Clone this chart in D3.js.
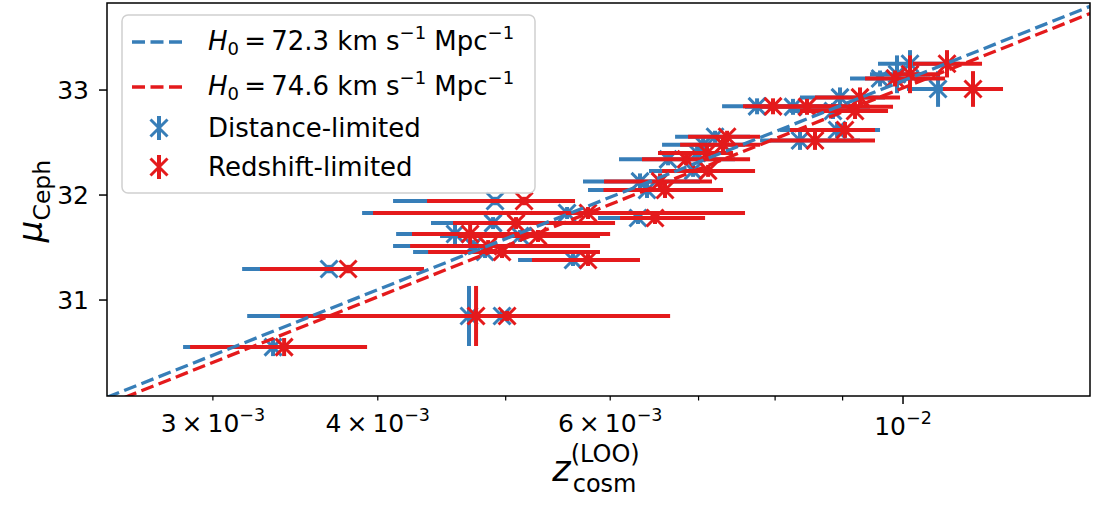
<!DOCTYPE html>
<html>
<head>
<meta charset="utf-8">
<script src="https://cdn.jsdelivr.net/npm/d3@7/dist/d3.min.js"></script>
<style>
  body { margin: 0; background: #fff; }
  svg text { font-family: "DejaVu Sans", sans-serif; fill: #000; }
</style>
</head>
<body>
<div id="chart"></div>
<script>
// Hubble constants of the two model lines (km/s/Mpc)
var hubbleValues = [72.3, 74.6];
var hubbleLabels = ["72.3", "74.6"];
var seriesNames = ["Distance-limited", "Redshift-limited"];

// distance modulus and its error, one entry per galaxy (same for both samples)
var muCeph = [30.552, 31.295, 30.848, 30.848, 31.943, 31.829, 31.733, 31.629, 31.610, 31.514,
              31.457, 31.381, 32.13, 32.048, 31.781, 32.34, 32.23, 32.40, 32.48, 32.555,
              32.845, 32.84, 32.52, 32.80, 32.93, 32.62, 33.11, 33.25, 33.01, 33.15];
var muErr = [0.086, 0.04, 0.286, 0.048, 0.04, 0.057, 0.057, 0.095, 0.057, 0.057,
             0.057, 0.057, 0.076, 0.076, 0.057, 0.057, 0.057, 0.076, 0.076, 0.057,
             0.076, 0.076, 0.09, 0.076, 0.095, 0.076, 0.076, 0.13, 0.17, 0.18];

// distance-limited: z_cosm and the ends of its error bar
var distZ   = [0.003332, 0.003674, 0.004690, 0.004968, 0.004908, 0.005565, 0.004891, 0.004577, 0.005127, 0.004723,
               0.004823, 0.005623, 0.006320, 0.006398, 0.006298, 0.006637, 0.006933, 0.006982, 0.007055, 0.007204,
               0.007752, 0.008254, 0.008355, 0.008850, 0.008959, 0.008913, 0.009607, 0.010123, 0.010630, 0.009896];
var distZLo = [0.002848, 0.003157, 0.003185, 0.003373, 0.004108, 0.003892, 0.004389, 0.004130, 0.004459, 0.004108,
               0.004254, 0.005109, 0.005722, 0.005772, 0.005874, 0.006093, 0.006420, 0.006522, 0.006568, 0.006719,
               0.007293, 0.007591, 0.007793, 0.008211, 0.008355, 0.008069, 0.009117, 0.009573, 0.010070, 0.009440];
var distZHi = [0.003831, 0.004202, 0.006545, 0.006320, 0.005498, 0.007395, 0.005894, 0.005843, 0.005793, 0.005643,
               0.005742, 0.006157, 0.007018, 0.007141, 0.006896, 0.007460, 0.007526, 0.007267, 0.007591, 0.007658,
               0.009037, 0.009440, 0.009277, 0.009523, 0.009691, 0.009607, 0.010482, 0.011045, 0.011103, 0.010391];

// redshift-limited: z_cosm and the ends of its error bar
var redZ   = [0.003397, 0.003798, 0.004748, 0.005012, 0.005163, 0.005772, 0.005091, 0.004699, 0.005290, 0.004849,
              0.004968, 0.005772, 0.006545, 0.006602, 0.006488, 0.006849, 0.007117, 0.007104, 0.007305, 0.007357,
              0.007971, 0.008458, 0.008577, 0.009197, 0.009277, 0.009037, 0.009861, 0.010798, 0.011299, 0.010123];
var redZLo = [0.002883, 0.003257, 0.003373, 0.003493, 0.004359, 0.003967, 0.004561, 0.004246, 0.004601, 0.004232,
              0.004367, 0.005235, 0.005936, 0.005930, 0.006104, 0.006342, 0.006568, 0.006522, 0.006778, 0.006873,
              0.007565, 0.007793, 0.007930, 0.008355, 0.008577, 0.008211, 0.009359, 0.010176, 0.010723, 0.009896];
var redZHi = [0.003926, 0.004336, 0.006661, 0.006545, 0.005643, 0.007591, 0.006051, 0.005999, 0.005894, 0.005793,
              0.005894, 0.006320, 0.007166, 0.007305, 0.007080, 0.007658, 0.007725, 0.007434, 0.007793, 0.007793,
              0.009277, 0.009827, 0.009523, 0.009742, 0.009948, 0.009523, 0.010760, 0.011478, 0.011906, 0.010667];

var xTicksLabelled = [0.003, 0.004, 0.006];
var xTickMantissa = ["3", "4", "6"];
var xTicksMinor = [0.005, 0.007, 0.008, 0.009];
var xTicksMajor = [0.01];
var yTicks = [31, 32, 33];

var colors = ["#377eb8", "#e41a1c"];
var speedOfLight = 299792.458;

var width = 1093, height = 505;
var margin = {left: 107, right: 3, top: 3, bottom: 109};

var svg = d3.select("#chart").append("svg")
    .attr("width", width)
    .attr("height", height);

var x = d3.scaleLog()
    .domain([0.002494, 0.013857])
    .range([margin.left, width - margin.right]);

var y = d3.scaleLinear()
    .domain([30.086, 33.829])
    .range([height - margin.bottom, margin.top]);

svg.append("defs").append("clipPath").attr("id", "plotclip")
  .append("rect")
    .attr("x", margin.left)
    .attr("y", margin.top)
    .attr("width", width - margin.left - margin.right)
    .attr("height", height - margin.top - margin.bottom);

var plot = svg.append("g").attr("clip-path", "url(#plotclip)");

var series = [
    {z: distZ, lo: distZLo, hi: distZHi},
    {z: redZ, lo: redZLo, hi: redZHi}
];

function xMarker(g, cx, cy, s, color) {
    g.append("path")
        .attr("d", "M" + (cx - s) + "," + (cy - s) + "L" + (cx + s) + "," + (cy + s) +
                   "M" + (cx - s) + "," + (cy + s) + "L" + (cx + s) + "," + (cy - s))
        .attr("stroke", color)
        .attr("stroke-width", 3)
        .attr("fill", "none");
}

series.forEach(function(s, k) {
    var g = plot.append("g");
    var color = colors[k];
    s.z.forEach(function(z, i) {
        g.append("line")
            .attr("x1", x(s.lo[i])).attr("x2", x(s.hi[i]))
            .attr("y1", y(muCeph[i])).attr("y2", y(muCeph[i]))
            .attr("stroke", color).attr("stroke-width", 4);
        g.append("line")
            .attr("x1", x(z)).attr("x2", x(z))
            .attr("y1", y(muCeph[i] - muErr[i])).attr("y2", y(muCeph[i] + muErr[i]))
            .attr("stroke", color).attr("stroke-width", 4);
    });
    s.z.forEach(function(z, i) {
        xMarker(g, x(z), y(muCeph[i]), 8.5, color);
    });
});

// model lines mu = 5 log10(c z / H0) + 25
var line = d3.line()
    .x(function(d) { return x(d[0]); })
    .y(function(d) { return y(d[1]); });

hubbleValues.forEach(function(h0, k) {
    var pts = x.domain().map(function(z) {
        return [z, 5 * Math.log10(speedOfLight * z / h0) + 25];
    });
    plot.append("path")
        .datum(pts)
        .attr("d", line)
        .attr("fill", "none")
        .attr("stroke", colors[k])
        .attr("stroke-width", 3.3)
        .attr("stroke-dasharray", "13,5.5");
});

// frame
svg.append("rect")
    .attr("x", margin.left)
    .attr("y", margin.top)
    .attr("width", width - margin.left - margin.right)
    .attr("height", height - margin.top - margin.bottom)
    .attr("fill", "none")
    .attr("stroke", "#000")
    .attr("stroke-width", 1.5);

var bottom = height - margin.bottom;
var tickFont = 25;

// x ticks
xTicksLabelled.concat(xTicksMinor).forEach(function(t) {
    svg.append("line")
        .attr("x1", x(t)).attr("x2", x(t))
        .attr("y1", bottom).attr("y2", bottom + 4.5)
        .attr("stroke", "#000").attr("stroke-width", 1.2);
});
xTicksMajor.forEach(function(t) {
    svg.append("line")
        .attr("x1", x(t)).attr("x2", x(t))
        .attr("y1", bottom).attr("y2", bottom + 8)
        .attr("stroke", "#000").attr("stroke-width", 1.5);
});

xTicksLabelled.forEach(function(t, i) {
    var txt = svg.append("text")
        .attr("x", x(t))
        .attr("y", bottom + 36)
        .attr("text-anchor", "middle")
        .style("font-size", tickFont + "px");
    txt.append("tspan").text(xTickMantissa[i] + "\u2009\u00d7\u200910");
    txt.append("tspan").attr("dy", -11).style("font-size", "17.5px").text("\u22123");
});
xTicksMajor.forEach(function(t) {
    var txt = svg.append("text")
        .attr("x", x(t))
        .attr("y", bottom + 39)
        .attr("text-anchor", "middle")
        .style("font-size", tickFont + "px");
    txt.append("tspan").text("10");
    txt.append("tspan").attr("dy", -11).style("font-size", "17.5px").text("\u22122");
});

// y ticks
yTicks.forEach(function(t) {
    svg.append("line")
        .attr("x1", margin.left - 8).attr("x2", margin.left)
        .attr("y1", y(t)).attr("y2", y(t))
        .attr("stroke", "#000").attr("stroke-width", 1.5);
    svg.append("text")
        .attr("x", margin.left - 18)
        .attr("y", y(t))
        .attr("dy", "0.36em")
        .attr("text-anchor", "end")
        .style("font-size", tickFont + "px")
        .text(t);
});

// axis labels
var xl = svg.append("text")
    .attr("x", 596)
    .attr("y", 481)
    .attr("text-anchor", "middle")
    .style("font-size", "35px");
xl.append("tspan").style("font-style", "italic").text("z");
xl.append("tspan").attr("dy", -19).style("font-size", "24px").text("(LOO)");
xl.append("tspan").attr("dx", -67).attr("dy", 30).style("font-size", "24px").text("cosm");

var yl = svg.append("text")
    .attr("transform", "translate(42,201) rotate(-90)")
    .attr("text-anchor", "middle")
    .style("font-size", "34px");
yl.append("tspan").style("font-style", "italic").text("\u03bc");
yl.append("tspan").attr("dy", 8).style("font-size", "23.5px").text("Ceph");

// legend
var legend = svg.append("g");
legend.append("rect")
    .attr("x", 122).attr("y", 15)
    .attr("width", 413).attr("height", 178)
    .attr("rx", 6)
    .attr("fill", "#fff").attr("fill-opacity", 0.8)
    .attr("stroke", "#d0d0d0").attr("stroke-width", 1.5);

var legendFont = 26;
hubbleValues.forEach(function(h0, k) {
    var cy = [42, 87][k];
    legend.append("line")
        .attr("x1", 132).attr("x2", 186)
        .attr("y1", cy).attr("y2", cy)
        .attr("stroke", colors[k]).attr("stroke-width", 3.3)
        .attr("stroke-dasharray", "13,5.5");
    var t = legend.append("text")
        .attr("x", 208).attr("y", cy + 8)
        .style("font-size", legendFont + "px");
    t.append("tspan").style("font-style", "italic").text("H");
    t.append("tspan").attr("dy", 5).style("font-size", "18px").text("0");
    t.append("tspan").attr("dy", -5).text("\u2009=\u2009" + hubbleLabels[k] + " km s");
    t.append("tspan").attr("dy", -11).style("font-size", "18px").text("\u22121");
    t.append("tspan").attr("dy", 11).text(" Mpc");
    t.append("tspan").attr("dy", -11).style("font-size", "18px").text("\u22121");
});

seriesNames.forEach(function(name, k) {
    var cy = [128, 167][k];
    legend.append("line")
        .attr("x1", 159).attr("x2", 159)
        .attr("y1", cy - 12).attr("y2", cy + 12)
        .attr("stroke", colors[k]).attr("stroke-width", 4);
    xMarker(legend, 159, cy, 8.5, colors[k]);
    legend.append("text")
        .attr("x", 208).attr("y", cy + 9)
        .style("font-size", legendFont + "px")
        .text(name);
});
</script>
</body>
</html>
